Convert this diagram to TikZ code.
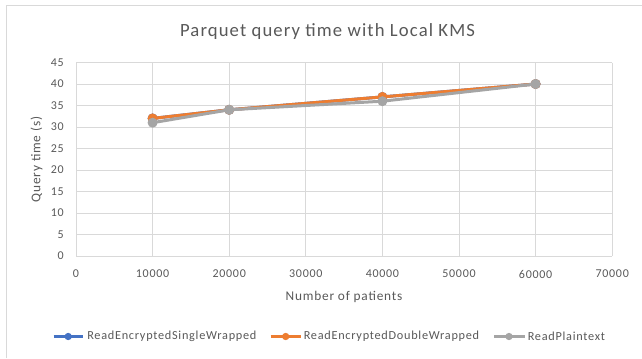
\documentclass[tikz,border=0pt]{standalone}
\usepackage{fontspec}
\setmainfont{Carlito}[LetterSpace=6]
\definecolor{txt}{HTML}{595959}
\definecolor{grid}{HTML}{D9D9D9}
\definecolor{sone}{HTML}{4472C4}
\definecolor{stwo}{HTML}{ED7D31}
\definecolor{sthree}{HTML}{A5A5A5}
\begin{document}
\begin{tikzpicture}[x=0.75pt,y=-0.75pt,
  gridline/.style={draw=grid,line width=0.75pt},
  ticklab/.style={text=txt,font=\fontsize{9}{10}\selectfont,inner sep=0pt},
  axtitle/.style={text=txt,font=\fontsize{10}{12}\selectfont,inner sep=0pt},
  series/.style={line width=2.25pt,line join=round,line cap=round},
  mk/.style={circle,inner sep=0pt,minimum size=7.5pt},
  lmk/.style={circle,inner sep=0pt,minimum size=5.5pt},
  legtext/.style={text=txt,font=\fontsize{9.2}{10}\selectfont,inner sep=0pt,anchor=west}]
\useasboundingbox (0,0) rectangle (642,358);
\fill[white] (0,0) rectangle (642,358);
% chart border
\draw[grid,line width=0.75pt] (6.3,358) -- (6.3,5.7) -- (642,5.7);
% title
\node[text=txt,font=\fontsize{14}{16}\selectfont,inner sep=0pt] (title) at (327.5,32) {Parquet query time with Local KMS};
% grid
\foreach \i in {0,...,9}{
  \draw[gridline] (76,{256-\i*21.5}) -- (612.2,{256-\i*21.5});
  \pgfmathtruncatemacro{\lab}{\i*5}
  \node[ticklab,anchor=east] (yl\i) at (64,{256-\i*21.5}) {\lab};
}
\foreach \j in {0,...,7}{
  \draw[gridline] ({76+\j*76.6},62.5) -- ({76+\j*76.6},256);
  \node[ticklab] (xl\j) at ({76+\j*76.6},274) {\ifnum\j=0 0\else\j0000\fi};
}
% axis titles
\node[axtitle] (xtitle) at (344,296.5) {Number of patients};
\node[axtitle,rotate=90] (ytitle) at (36.5,159.5) {Query time (s)};
% data points
\foreach \s/\c/\a/\b/\d/\e in {one/sone/32/34/37/40, two/stwo/32/34/37/40, three/sthree/31/34/36/40}{
  \coordinate (\s1) at ({76+1*76.6},{256-\a*4.3});
  \coordinate (\s2) at ({76+2*76.6},{256-\b*4.3});
  \coordinate (\s4) at ({76+4*76.6},{256-\d*4.3});
  \coordinate (\s6) at ({76+6*76.6},{256-\e*4.3});
}
\draw[series,sone] (one1) -- (one2) -- (one4) -- (one6);
\foreach \p in {1,2,4,6}{\node[mk,fill=sone] (m1\p) at (one\p) {};}
\draw[series,stwo] (two1) -- (two2) -- (two4) -- (two6);
\foreach \p in {1,2,4,6}{\node[mk,fill=stwo] (m2\p) at (two\p) {};}
\draw[series,sthree] (three1) -- (three2) -- (three4) -- (three6);
\foreach \p in {1,2,4,6}{\node[mk,fill=sthree] (m3\p) at (three\p) {};}
% legend
\coordinate (la1) at (53.5,336.5); \coordinate (lb1) at (83,336.5);
\draw[series,sone,line cap=butt] (la1) -- (lb1);
\node[lmk,fill=sone] (lm1) at (68.2,336.5) {};
\node[legtext] (lt1) at (87,336.5) {ReadEncryptedSingleWrapped};
\coordinate (la2) at (270.5,336.5); \coordinate (lb2) at (301,336.5);
\draw[series,stwo,line cap=butt] (la2) -- (lb2);
\node[lmk,fill=stwo] (lm2) at (285.7,336.5) {};
\node[legtext] (lt2) at (303.5,336.5) {ReadEncryptedDoubleWrapped};
\coordinate (la3) at (494,336.5); \coordinate (lb3) at (525,336.5);
\draw[series,sthree,line cap=butt] (la3) -- (lb3);
\node[lmk,fill=sthree] (lm3) at (509,336.5) {};
\node[legtext] (lt3) at (527.5,336.5) {ReadPlaintext};
\end{tikzpicture}
\end{document}
